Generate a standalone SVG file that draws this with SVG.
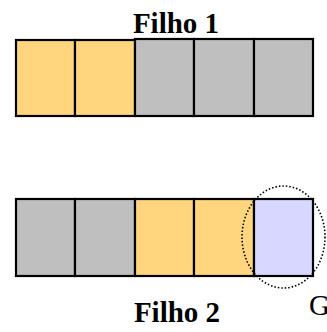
<svg xmlns="http://www.w3.org/2000/svg" width="327" height="332" viewBox="0 0 327 332">
<style>
.c{stroke:#000;stroke-width:2.2}
.o{fill:#FFD57D}
.g{fill:#BFBFBF}
.b{fill:#D7D7FF}
.t{font-family:"Liberation Serif",serif;font-weight:bold;font-size:29px;fill:#000}
.r{font-family:"Liberation Serif",serif;font-size:29px;fill:#000}
</style>
<g id="filho1-label"><text class="t" x="176" y="33" text-anchor="middle">Filho 1</text></g>
<g id="filho1">
<rect class="c o" x="16" y="40" width="59" height="76"/>
<rect class="c o" x="75" y="40" width="60" height="76"/>
<rect class="c g" x="135" y="39" width="59" height="77"/>
<rect class="c g" x="194" y="39" width="60" height="77"/>
<rect class="c g" x="254" y="39" width="59" height="77"/>
</g>
<g id="filho2">
<rect class="c g" x="16" y="199" width="59" height="77"/>
<rect class="c g" x="75" y="199" width="60" height="77"/>
<rect class="c o" x="135" y="199" width="59" height="77"/>
<rect class="c o" x="194" y="199" width="60" height="77"/>
<rect class="c b" x="254" y="199" width="59" height="77"/>
</g>
<g id="highlight"><ellipse cx="283.5" cy="237" rx="41.5" ry="51" fill="none" stroke="#000" stroke-width="1.6" stroke-dasharray="1.5 2"/></g>
<g id="filho2-label"><text class="t" x="177" y="322" text-anchor="middle">Filho 2</text></g>
<g id="g-label"><text class="r" x="309" y="315">G</text></g>
</svg>
